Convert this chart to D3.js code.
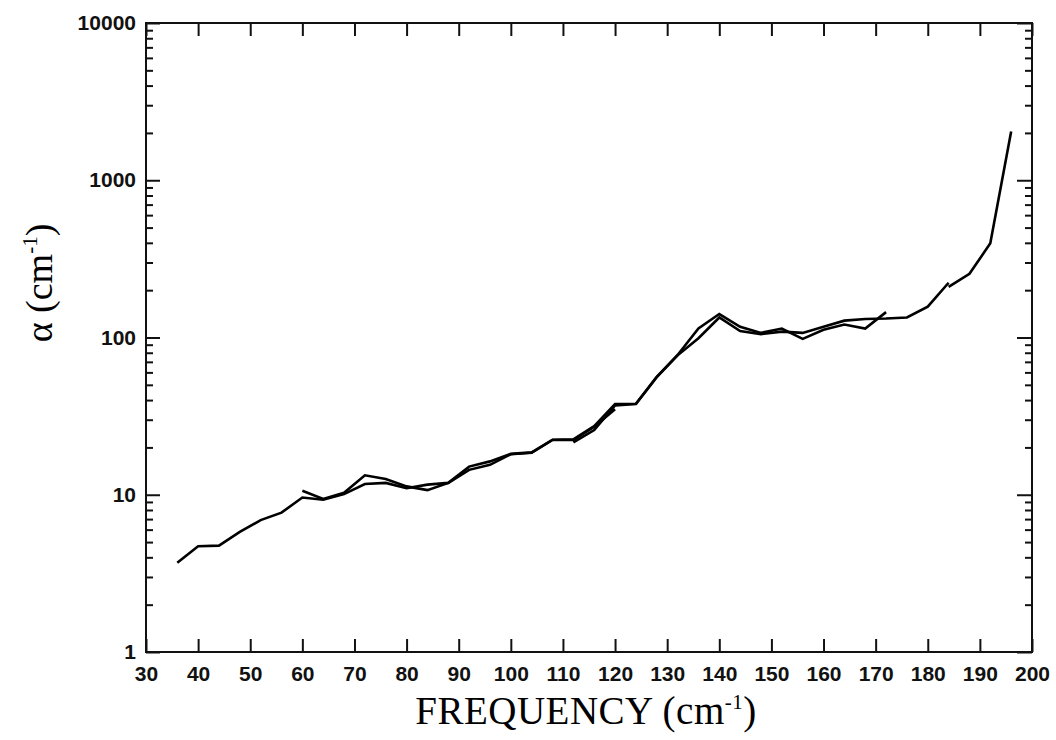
<!DOCTYPE html>
<html>
<head>
<meta charset="utf-8">
<script src="https://cdn.jsdelivr.net/npm/d3@7/dist/d3.min.js"></script>
<style>
  html, body { margin: 0; padding: 0; background: #fff; }
  svg { display: block; }
</style>
</head>
<body>
<svg id="chart" width="1056" height="740"></svg>
<script>
// ---- data ----
const s1Freq = [36, 40, 44, 48, 52, 56, 60, 64, 68, 72, 76, 80, 84, 88, 92, 96, 100, 104, 108, 112, 116, 120];
const s1Alpha = [3.7, 4.7, 4.75, 5.8, 6.9, 7.7, 9.6, 9.3, 10.1, 11.7, 11.9, 11.0, 11.6, 11.9, 14.4, 15.5, 18.1, 18.5, 22.3, 22.3, 27.1, 35];

const s2Freq = [60, 64, 68, 72, 76, 80, 84, 88, 92, 96, 100, 104, 108, 112, 116, 120, 124, 128, 132, 136, 140, 144, 148, 152, 156, 160, 164, 168, 172];
const s2Alpha = [10.6, 9.4, 10.3, 13.3, 12.6, 11.3, 10.7, 11.9, 15.1, 16.3, 18.2, 18.6, 22.4, 22.5, 27.3, 37.8, 37.9, 56.3, 77.4, 114, 141, 117, 107, 114, 98, 112, 121, 114, 145];

const s3Freq = [112, 116, 120, 124, 128, 132, 136, 140, 144, 148, 152, 156, 160, 164, 168, 172, 176, 180, 184];
const s3Alpha = [21.5, 25.8, 37.0, 37.8, 56, 77, 99, 134, 110, 105, 109, 107, 117, 128, 131, 132, 134, 157, 223];

const s4Freq = [184, 188, 192, 196];
const s4Alpha = [210, 254, 397, 2040];

const xTicks = [30, 40, 50, 60, 70, 80, 90, 100, 110, 120, 130, 140, 150, 160, 170, 180, 190, 200];
const yMajorTicks = [1, 10, 100, 1000, 10000];
const yMinorTicks = [];
[1, 10, 100, 1000].forEach(d => { for (let k = 2; k <= 9; k++) yMinorTicks.push(d * k); });

(function () {
// ---- layout ----
const svg = d3.select("#chart");
const padL = 146, padR = 1032, padT = 23, padB = 652;

const x = d3.scaleLinear().domain([30, 200]).range([padL, padR]);
const y = d3.scaleLog().domain([1, 10000]).range([padB, padT]);

const tickFont = "'Liberation Sans', Arial, sans-serif";
const axisColor = "#111";

function styleAxis(g) {
  g.select(".domain").remove();
  g.selectAll(".tick line").attr("stroke", axisColor).attr("stroke-width", 2);
  g.selectAll(".tick text")
    .attr("fill", axisColor)
    .style("font-family", tickFont)
    .style("font-size", "21px")
    .style("font-weight", "bold");
}

// bottom axis
svg.append("g")
  .attr("transform", `translate(0,${padB})`)
  .call(d3.axisBottom(x).tickValues(xTicks).tickFormat(d3.format("d")).tickSize(-13).tickPadding(14))
  .call(styleAxis);

// top axis (ticks only)
svg.append("g")
  .attr("transform", `translate(0,${padT})`)
  .call(d3.axisTop(x).tickValues(xTicks).tickFormat("").tickSize(-13))
  .call(styleAxis);

// left axis: major with labels
svg.append("g")
  .attr("transform", `translate(${padL},0)`)
  .call(d3.axisLeft(y).tickValues(yMajorTicks).tickFormat(d3.format("d")).tickSize(-14).tickPadding(10))
  .call(styleAxis);
// left minor
svg.append("g")
  .attr("transform", `translate(${padL},0)`)
  .call(d3.axisLeft(y).tickValues(yMinorTicks).tickFormat("").tickSize(-7))
  .call(styleAxis);

// right axis
svg.append("g")
  .attr("transform", `translate(${padR},0)`)
  .call(d3.axisRight(y).tickValues(yMajorTicks).tickFormat("").tickSize(-15))
  .call(styleAxis);
svg.append("g")
  .attr("transform", `translate(${padR},0)`)
  .call(d3.axisRight(y).tickValues(yMinorTicks).tickFormat("").tickSize(-7))
  .call(styleAxis);

// frame
svg.append("rect")
  .attr("x", padL).attr("y", padT)
  .attr("width", padR - padL).attr("height", padB - padT)
  .attr("fill", "none").attr("stroke", axisColor).attr("stroke-width", 2);

// ---- series ----
const line = d3.line().x(d => x(d[0])).y(d => y(d[1]));
const seriesList = [
  [s1Freq, s1Alpha],
  [s2Freq, s2Alpha],
  [s3Freq, s3Alpha],
  [s4Freq, s4Alpha]
];
seriesList.forEach(([f, a]) => {
  svg.append("path")
    .datum(f.map((v, i) => [v, a[i]]))
    .attr("d", line)
    .attr("fill", "none")
    .attr("stroke", "#000")
    .attr("stroke-width", 2.6)
    .attr("stroke-linejoin", "miter");
});

// ---- axis titles ----
const serif = "'Liberation Serif', 'Times New Roman', serif";
const xt = svg.append("text")
  .attr("x", (padL + padR) / 2 - 3)
  .attr("y", 724)
  .attr("text-anchor", "middle")
  .style("font-family", serif)
  .style("font-size", "39px")
  .style("letter-spacing", "0.5px")
  .attr("fill", "#000");
xt.append("tspan").text("FREQUENCY (cm");
xt.append("tspan").attr("dy", -15).style("font-size", "21px").text("-1");
xt.append("tspan").attr("dy", 15).text(")");

const yt = svg.append("text")
  .attr("transform", `translate(52,283) rotate(-90)`)
  .attr("text-anchor", "middle")
  .style("font-family", serif)
  .style("font-size", "38px")
  .attr("fill", "#000");
yt.append("tspan").text("α (cm");
yt.append("tspan").attr("dy", -15).style("font-size", "21px").text("-1");
yt.append("tspan").attr("dy", 15).text(")");
})();
</script>
</body>
</html>
